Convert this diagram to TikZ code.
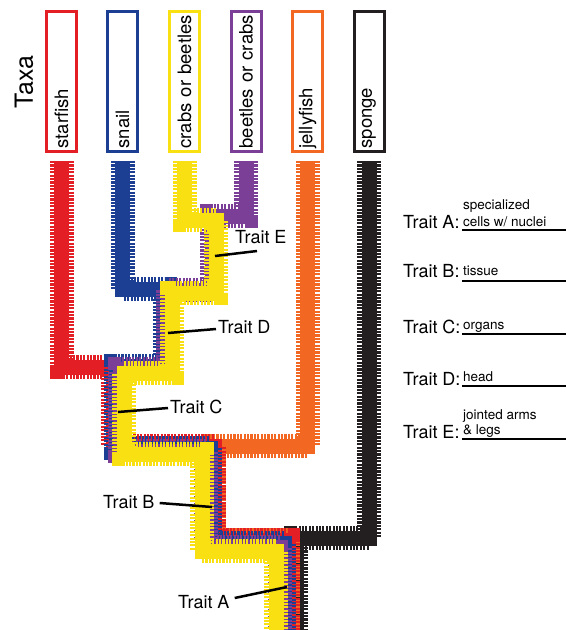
\documentclass[tikz,border=0pt]{standalone}
\usepackage{fontspec}
\setmainfont{TeX Gyre Heros}
\definecolor{cred}{HTML}{E31E24}
\definecolor{cblue}{HTML}{1C3F94}
\definecolor{cyellow}{HTML}{F8E013}
\definecolor{cpurple}{HTML}{7B3F98}
\definecolor{corange}{HTML}{F26722}
\definecolor{cblack}{HTML}{231F20}
\tikzset{
  pipe/.style={draw=#1, line width=15pt,
    preaction={draw=#1, line width=24pt, dash pattern=on 2.1pt off 1.3pt}},
  taxon/.style={draw=#1, line width=3pt, rotate=90, minimum height=30pt,
    text width=134pt, inner xsep=3pt, align=left,
    font=\fontsize{18.5}{20}\selectfont},
  trait/.style={inner sep=0pt, anchor=base west, font=\fontsize{18}{20}\selectfont},
  note/.style={inner sep=0pt, anchor=base west, font=\fontsize{13.5}{15}\selectfont},
  pointer/.style={line width=2.5pt},
  blank/.style={line width=2pt}
}
\begin{document}
\begin{tikzpicture}[x=1pt,y=-1pt]
  \clip (0,0) rectangle (566,630);
  \node[rotate=90, font=\fontsize{25}{28}\selectfont] (taxa) at (24,82) {Taxa};
  \node[taxon=cred] (starfish) at (61.5,81.5) {starfish};
  \node[taxon=cblue] (snail) at (122.5,81.5) {snail};
  \node[taxon=cyellow] (crabs) at (184.5,81.5) {crabs or beetles};
  \node[taxon=cpurple] (beetles) at (246,81.5) {beetles or crabs};
  \node[taxon=corange] (jellyfish) at (307.5,81.5) {jellyfish};
  \node[taxon=cblack] (sponge) at (369,81.5) {sponge};

  \draw[pipe=cblack] (sponge.west) ++(0,8) |- (296,538) -- (296,640);
  \draw[pipe=corange] (jellyfish.west) ++(0,8) |- (214,446) |- (288,540) -- (288,640);
  \draw[pipe=cred] (starfish.west) ++(0,8) |- (113,367) |- (214,446) |- (288,540) -- (288,640);
  \draw[pipe=cblue] (snail.west) ++(0,8) |- (165,289) |- (116,366) |- (210,448)
    |- (284,543) -- (284,640);
  \draw[pipe=cpurple] (beetles.west) ++(0,8) |- (212,216) |- (168,290) |- (120,369)
    |- (206,451) |- (280,547) -- (280,640);
  \draw[pipe=cyellow] (crabs.west) ++(0,8) |- (216,220) |- (172,293) |- (124,373)
    |- (202,454) |- (276,551) -- (276,640);

  \node[trait] (traitE) at (235,243) {Trait E};
  \node[trait] (traitD) at (218,333) {Trait D};
  \node[trait] (traitC) at (170,413) {Trait C};
  \node[trait] (traitB) at (103,508) {Trait B};
  \node[trait] (traitA) at (178,608) {Trait A};
  \coordinate (onE) at (215,256);
  \coordinate (onD) at (168,333);
  \coordinate (onC) at (118,412);
  \coordinate (onB) at (212,507);
  \coordinate (onA) at (287,587);
  \draw[pointer] ([shift={(22,8)}]traitE.base west) -- (onE);
  \draw[pointer] ([shift={(-2,-4)}]traitD.base west) -- (onD);
  \draw[pointer] ([shift={(-2,-5)}]traitC.base west) -- (onC);
  \draw[pointer] ([shift={(5,-5)}]traitB.base east) -- (onB);
  \draw[pointer] ([shift={(5,-10)}]traitA.base east) -- (onA);

  \node[trait] (keyA) at (403,228) {Trait A:};
  \node[note] (textA1) at (463,209) {specialized};
  \node[note] (textA2) at (463,226) {cells w/ nuclei};
  \draw[blank] (462,229.5) -- (566,229.5);
  \node[trait] (keyB) at (403,277) {Trait B:};
  \node[note] (textB) at (463,275) {tissue};
  \draw[blank] (462,280.5) -- (566,280.5);
  \node[trait] (keyC) at (403,333) {Trait C:};
  \node[note] (textC) at (463,329) {organs};
  \draw[blank] (462,334) -- (566,334);
  \node[trait] (keyD) at (403,385) {Trait D:};
  \node[note] (textD) at (463,381) {head};
  \draw[blank] (462,386) -- (566,386);
  \node[trait] (keyE) at (403,438) {Trait E:};
  \node[note] (textE1) at (463,419) {jointed arms};
  \node[note] (textE2) at (463,434) {\& legs};
  \draw[blank] (462,439) -- (566,439);
\end{tikzpicture}
\end{document}
